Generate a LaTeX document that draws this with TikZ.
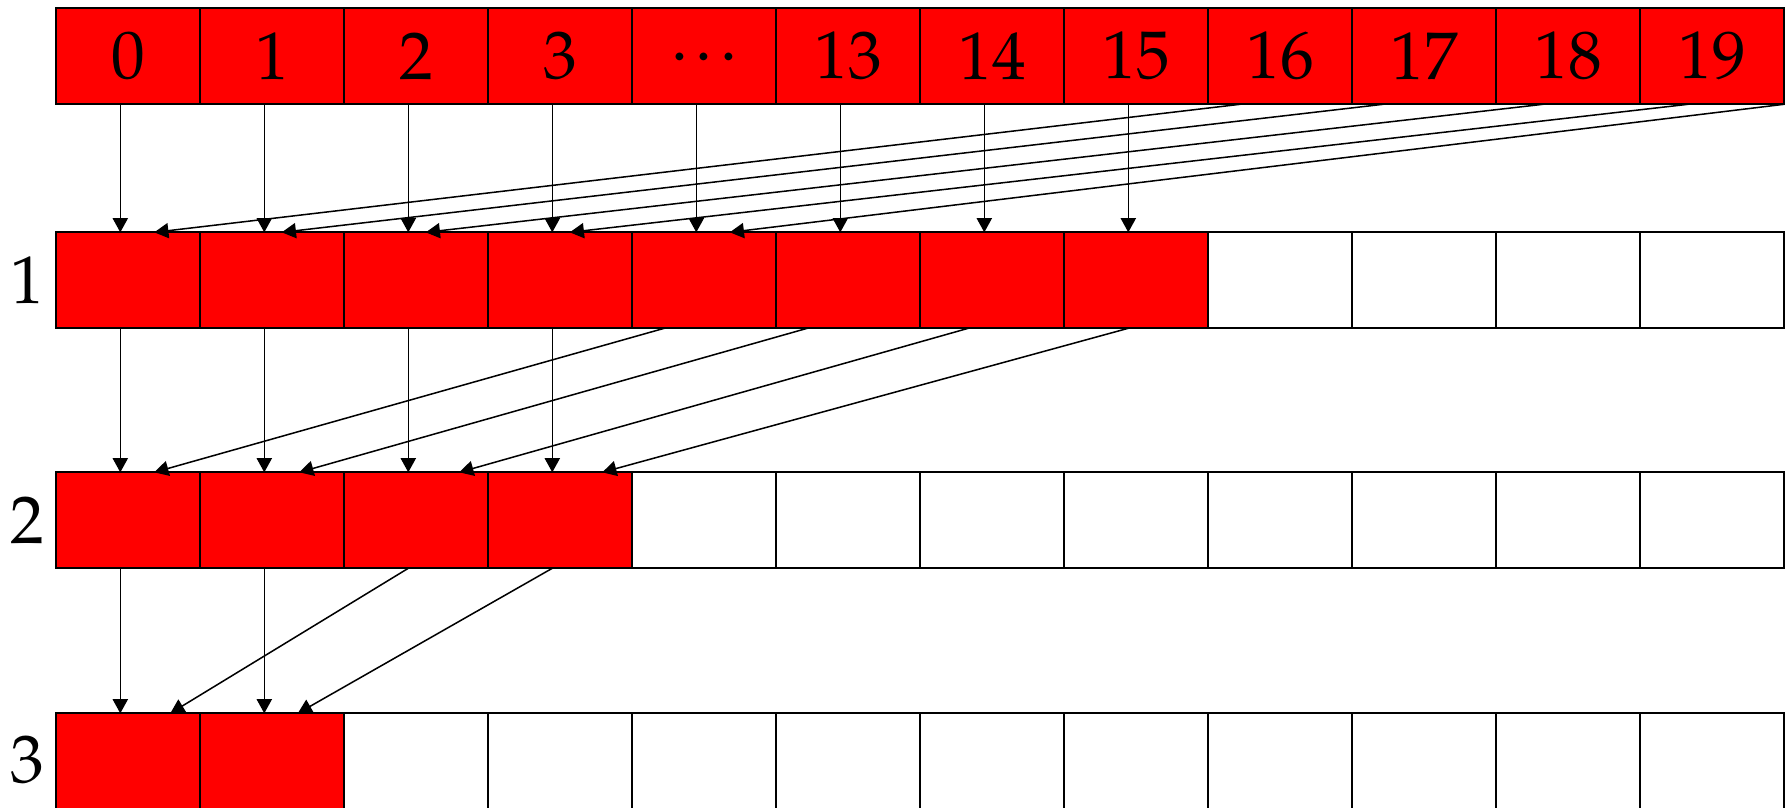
\documentclass[tikz,border=0pt]{standalone}
\usepackage[T1]{fontenc}
\usepackage{mathpazo}
\usetikzlibrary{arrows.meta,calc}
\begin{document}
\begin{tikzpicture}[x=0.0104167cm,y=-0.0104167cm,
  cell/.style={draw=black,line width=0.5pt,minimum width=1.5cm,minimum height=1cm,
    inner sep=0pt,outer sep=0pt,anchor=center,font=\fontsize{20}{24}\selectfont},
  arr/.style={-{Triangle[length=4.2pt,width=4.5pt]},line width=0.45pt,draw=black},
  lbl/.style={font=\fontsize{20}{24}\selectfont,inner sep=0pt}]
\useasboundingbox (0,0) rectangle (1788,807);
% top row
\foreach \i/\t in {0/0,1/1,2/2,3/3,4/{.\kern0.11em.\kern0.11em.},5/13,6/14,7/15,8/16,9/17,10/18,11/19}
  \node[cell,fill=red] (t\i) at ({128.25+144*\i},56.3) {\t};
% row 1
\foreach \i in {0,...,11}{
  \ifnum\i<8 \def\f{red}\else\def\f{white}\fi
  \node[cell,fill=\f] (a\i) at ({128.25+144*\i},280.3) {};
}
% row 2
\foreach \i in {0,...,11}{
  \ifnum\i<4 \def\f{red}\else\def\f{white}\fi
  \node[cell,fill=\f] (b\i) at ({128.25+144*\i},520.3) {};
}
% row 3
\foreach \i in {0,...,11}{
  \ifnum\i<2 \def\f{red}\else\def\f{white}\fi
  \node[cell,fill=\f] (c\i) at ({128.25+144*\i},761.3) {};
}
% row labels
\node[lbl] (l1) at ($(a0.west)+(-28.75,0)$) {1};
\node[lbl] (l2) at ($(b0.west)+(-28.75,0)$) {2};
\node[lbl] (l3) at ($(c0.west)+(-28.75,-1)$) {3};
% straight arrows
\foreach \i in {0,...,7}
  \draw[arr] ($(t\i.south west)+(64,0)$) -- ($(a\i.north west)+(64,0)$);
\foreach \i in {0,...,3}
  \draw[arr] ($(a\i.south west)+(64,0)$) -- ($(b\i.north west)+(64,0)$);
\foreach \i in {0,1}
  \draw[arr] ($(b\i.south west)+(64,0)$) -- ($(c\i.north west)+(64,0)$);
% diagonal arrows: top -> row 1
\foreach \s/\so/\e/\eo in {8/32/0/98,9/31/1/81.5,10/47/2/81.5,11/48/3/81.5}
  \draw[arr] ($(t\s.south west)+(\so,0)$) -- ($(a\e.north west)+(\eo,0)$);
\draw[arr] (t11.south east) -- ($(a4.north west)+(97.5,0)$);
% row 1 -> row 2
\foreach \s/\so/\e/\eo in {4/32/0/98,5/31/1/99,6/48/2/115,7/64/3/114}
  \draw[arr] ($(a\s.south west)+(\so,0)$) -- ($(b\e.north west)+(\eo,0)$);
% row 2 -> row 3
\foreach \s/\so/\e/\eo in {2/64/0/114,3/64/1/97.5}
  \draw[arr] ($(b\s.south west)+(\so,0)$) -- ($(c\e.north west)+(\eo,0)$);
\end{tikzpicture}
\end{document}
